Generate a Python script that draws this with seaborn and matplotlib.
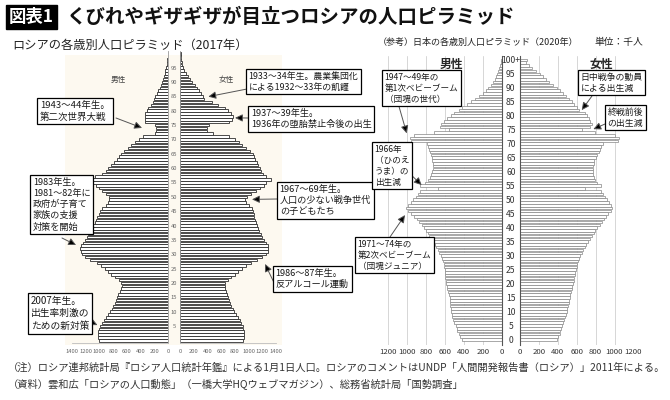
import matplotlib
matplotlib.use("Agg")
import matplotlib.pyplot as plt
from matplotlib.patches import Rectangle
import seaborn as sns

W, H = 670, 400

# ages 0..100 (last Japanese bar is 100+)
ages = list(range(101))

# Russia 2017, thousands
rus_male = [1000, 1020, 1020, 1020, 1000, 990, 960, 930, 900, 870,
            845, 820, 800, 780, 760, 750, 735, 700, 680, 675,
            680, 720, 775, 830, 880, 920, 980, 1040, 1140, 1210,
            1250, 1275, 1285, 1275, 1240, 1210, 1180, 1160, 1120, 1100,
            1090, 1070, 1050, 1030, 1010, 990, 960, 900, 870, 860,
            860, 900, 965, 1010, 1050, 1090, 1120, 1060, 960, 900,
            870, 830, 790, 750, 720, 690, 640, 590, 540, 480,
            430, 370, 190, 170, 175, 190, 330, 340, 335, 330,
            310, 290, 250, 225, 200, 185, 160, 140, 120, 100,
            90, 75, 60, 48, 38, 28, 20, 14, 10, 7,
            5]
rus_female = [920, 935, 935, 935, 925, 915, 895, 870, 845, 815,
              790, 770, 750, 730, 715, 700, 690, 670, 660, 655,
              660, 700, 750, 800, 850, 900, 960, 1030, 1130, 1200,
              1250, 1280, 1290, 1280, 1250, 1220, 1195, 1175, 1150, 1135,
              1120, 1110, 1095, 1085, 1075, 1060, 1045, 1000, 965, 950,
              975, 1030, 1110, 1170, 1220, 1260, 1320, 1250, 1210, 1180,
              1160, 1140, 1120, 1100, 1080, 1060, 1020, 960, 900, 860,
              800, 720, 480, 400, 400, 430, 720, 760, 770, 750,
              700, 650, 560, 470, 350, 340, 310, 280, 250, 220,
              175, 145, 115, 85, 65, 48, 36, 26, 18, 12,
              8]

# Japan 2020, thousands
jpn_male = [425, 440, 455, 468, 478, 488, 500, 512, 522, 528,
            534, 540, 545, 548, 550, 552, 558, 566, 574, 582,
            588, 594, 598, 600, 602, 604, 608, 614, 620, 630,
            645, 660, 675, 692, 710, 730, 748, 765, 785, 805,
            825, 848, 872, 895, 925, 955, 990, 1010, 995, 965,
            940, 910, 885, 865, 670, 860, 810, 780, 760, 745,
            738, 730, 728, 730, 735, 742, 748, 755, 765, 775,
            790, 955, 970, 925, 720, 560, 650, 645, 610, 580,
            540, 505, 455, 420, 370, 320, 280, 240, 200, 170,
            140, 115, 92, 72, 56, 45, 34, 24, 16, 10,
            12]
jpn_female = [392, 405, 418, 428, 438, 448, 458, 468, 478, 488,
              494, 502, 508, 514, 520, 525, 530, 538, 546, 554,
              562, 568, 574, 580, 585, 592, 598, 606, 616, 628,
              638, 652, 668, 684, 702, 720, 738, 758, 778, 798,
              818, 842, 864, 886, 908, 930, 960, 978, 965, 945,
              920, 897, 878, 862, 685, 855, 815, 790, 778, 772,
              772, 770, 772, 778, 788, 800, 815, 832, 848, 862,
              880, 1035, 1045, 1000, 790, 660, 745, 760, 745, 725,
              705, 685, 625, 605, 575, 548, 520, 490, 455, 420,
              390, 350, 310, 275, 240, 210, 170, 130, 95, 65,
              75]

rus_ticks = list(range(0, 1401, 200))
jpn_ticks = list(range(0, 1201, 200))
rus_age_ticks = list(range(5, 96, 5))
jpn_age_ticks = list(range(0, 101, 5))
jpn_age_labels = [str(a) for a in jpn_age_ticks[:-1]] + ["100+"]

sns.set_style("white")
plt.rcParams["font.family"] = ["Noto Sans CJK JP", "DejaVu Sans"]

fig = plt.figure(figsize=(W / 100, H / 100), dpi=100)


def px_axes(x0, y0, x1, y1):
    ax = fig.add_axes([x0 / W, 1 - y1 / H, (x1 - x0) / W, (y1 - y0) / H])
    ax.set_facecolor("none")
    return ax


def side(ax, values, edge, lw, width):
    sns.barplot(x=values, y=ages, orient="h", native_scale=True, color="white",
                saturation=1, edgecolor=edge, linewidth=lw, width=width,
                errorbar=None, ax=ax)
    ax.set_xlabel("")
    ax.set_ylabel("")


# faint cream backdrop behind the Russian pyramid
fig.add_artist(Rectangle((65 / W, 1 - 345 / H), (282 - 65) / W, (345 - 55) / H,
                         transform=fig.transFigure, fc="#fdf9f0", ec="none", zorder=-5))

# ---- Russia
ax_rm = px_axes(72, 51, 168, 342.6)
ax_rf = px_axes(180, 51, 276, 342.6)
side(ax_rm, rus_male, "#2e2e2e", 0.6, 0.85)
side(ax_rf, rus_female, "#2e2e2e", 0.6, 0.85)
ax_rm.set_xlim(1400, 0)
ax_rf.set_xlim(0, 1400)
for ax, inner, outer in [(ax_rm, "right", "left"), (ax_rf, "left", "right")]:
    ax.set_ylim(-0.8, 100.8)
    ax.spines["top"].set_visible(False)
    ax.spines[outer].set_visible(False)
    ax.spines[inner].set_color("#9a9a9a")
    ax.spines[inner].set_linewidth(0.6)
    ax.spines["bottom"].set_color("#bdbdbd")
    ax.spines["bottom"].set_linewidth(0.6)
    ax.set_xticks(rus_ticks)
    ax.set_xticklabels([str(t) for t in rus_ticks])
    ax.tick_params(axis="x", labelsize=4.2, labelcolor="#666666", length=2,
                   width=0.5, color="#bdbdbd", pad=2.5)
ax_rm.set_yticks([])
ax_rf.set_yticks(rus_age_ticks)
ax_rf.set_yticklabels([str(a) for a in rus_age_ticks])
ax_rf.tick_params(axis="y", labelsize=4.2, labelcolor="#666666", length=0, pad=4.3)
for lbl in ax_rf.get_yticklabels():
    lbl.set_horizontalalignment("center")

# ---- Japan
ax_jm = px_axes(388.3, 55.6, 501.7, 345.1)
ax_jf = px_axes(520, 55.6, 633.4, 345.1)
for ax in (ax_jm, ax_jf):
    ax.set_axisbelow(True)
side(ax_jm, jpn_male, "#858585", 0.5, 0.9)
side(ax_jf, jpn_female, "#858585", 0.5, 0.9)
ax_jm.set_xlim(1200, 0)
ax_jf.set_xlim(0, 1200)
for ax, inner, outer in [(ax_jm, "right", "left"), (ax_jf, "left", "right")]:
    ax.set_ylim(-2, 101.5)
    ax.spines["top"].set_visible(False)
    ax.spines["bottom"].set_visible(False)
    ax.spines[outer].set_visible(False)
    ax.spines[inner].set_color("#555555")
    ax.spines[inner].set_linewidth(0.8)
    ax.set_xticks(jpn_ticks)
    ax.set_xticklabels([str(t) for t in jpn_ticks])
    ax.tick_params(axis="x", labelsize=5.6, labelcolor="#333333", length=0, pad=2)
    ax.xaxis.grid(True, color="#d6d6d6", lw=0.7)
ax_jm.set_yticks([])
ax_jf.set_yticks(jpn_age_ticks)
ax_jf.set_yticklabels(jpn_age_labels)
ax_jf.tick_params(axis="y", labelsize=6.2, labelcolor="#333333", length=0, pad=6.6)
for lbl in ax_jf.get_yticklabels():
    lbl.set_horizontalalignment("center")


def ftext(x, y, s, **kw):
    return fig.text(x / W, 1 - y / H, s, **kw)


def box(x, y, s, fs):
    pad = 0.3 * fs * 100 / 72
    ftext(x + pad, y + pad, s, fontsize=fs, va="top", ha="left", color="#1a1a1a",
          linespacing=1.3, zorder=6,
          bbox=dict(boxstyle="square,pad=0.3", fc="white", ec="black", lw=0.9))


def arrow(ax, tip, start):
    ax.annotate("", xy=tip, xycoords="data", xytext=(start[0], H - start[1]),
                textcoords="figure pixels", annotation_clip=False, zorder=5,
                arrowprops=dict(arrowstyle="-|>,head_length=0.45,head_width=0.22",
                                fc="black", ec="#555555", lw=0.7,
                                shrinkA=0, shrinkB=0))


# titles
ftext(9, 17, "図表1", fontsize=12.5, weight="bold", color="white", va="center",
      bbox=dict(boxstyle="square,pad=0.15", fc="black", ec="black"))
ftext(66, 17, "くびれやギザギザが目立つロシアの人口ピラミッド", fontsize=14,
      weight="bold", va="center", color="#111111")
ftext(12, 45, "ロシアの各歳別人口ピラミッド（2017年）", fontsize=8.8, va="center",
      color="#222222")
ftext(378, 42, "（参考）日本の各歳別人口ピラミッド（2020年）", fontsize=6.5,
      va="center", color="#222222")
ftext(594, 42, "単位：千人", fontsize=7.0, va="center", color="#222222")

ftext(118, 80, "男性", fontsize=5.5, ha="center", va="center", color="#444444")
ftext(226, 80, "女性", fontsize=5.5, ha="center", va="center", color="#444444")
ftext(451, 64, "男性", fontsize=8.5, weight="bold", ha="center", va="center")
ftext(601, 64, "女性", fontsize=8.5, weight="bold", ha="center", va="center")

# Russian annotations
arrow(ax_rf, (413, 84.9), (247, 89))
arrow(ax_rm, (379, 74), (116, 118))
arrow(ax_rf, (802, 77.5), (248, 118))
arrow(ax_rm, (1341, 33.2), (62, 238))
arrow(ax_rf, (1050, 49.1), (277, 199))
arrow(ax_rf, (1240, 26.6), (278, 291))
arrow(ax_rm, (1028, 5.3), (91, 322))
box(246, 69, "1933～34年生。農業集団化\nによる1932～33年の飢饉", 6.4)
box(37, 98, "1943～44年生。\n第二次世界大戦", 6.8)
box(248, 106, "1937～39年生。\n1936年の堕胎禁止令後の出生", 6.6)
box(30, 175, "1983年生。\n1981～82年に\n政府が子育て\n家族の支援\n対策を開始", 6.6)
box(277, 182, "1967～69年生。\n人口の少ない戦争世代\nの子どもたち", 6.6)
box(273, 266, "1986～87年生。\n反アルコール運動", 6.6)
box(28, 293, "2007年生。\n出生率刺激の\nための新対策", 7)

# Japanese annotations
arrow(ax_jm, (1005, 73.7), (398, 103))
arrow(ax_jm, (847, 55.2), (404, 168))
arrow(ax_jm, (1023, 44.5), (390, 237))
arrow(ax_jf, (653, 82), (592, 96))
arrow(ax_jf, (776, 75.2), (605, 124))
box(382, 70, "1947～49年の\n第1次ベビーブーム\n（団塊の世代）", 6.2)
box(372, 142, "1966年\n（ひのえ\nうま）の\n出生減", 6.2)
box(355, 237, "1971～74年の\n第2次ベビーブーム\n（団塊ジュニア）", 6.2)
box(578, 70, "日中戦争の動員\nによる出生減", 6.4)
box(605, 105, "終戦前後\nの出生減", 6.4)

# notes
ftext(8, 368, "（注）ロシア連邦統計局『ロシア人口統計年鑑』による1月1日人口。"
      "ロシアのコメントはUNDP「人間開発報告書（ロシア）」2011年による。",
      fontsize=7.4, va="center", color="#333333")
ftext(8, 385, "（資料）雲和広「ロシアの人口動態」（一橋大学HQウェブマガジン）、"
      "総務省統計局「国勢調査」", fontsize=7.4, va="center", color="#333333")

fig.savefig("out.png", dpi=100)
